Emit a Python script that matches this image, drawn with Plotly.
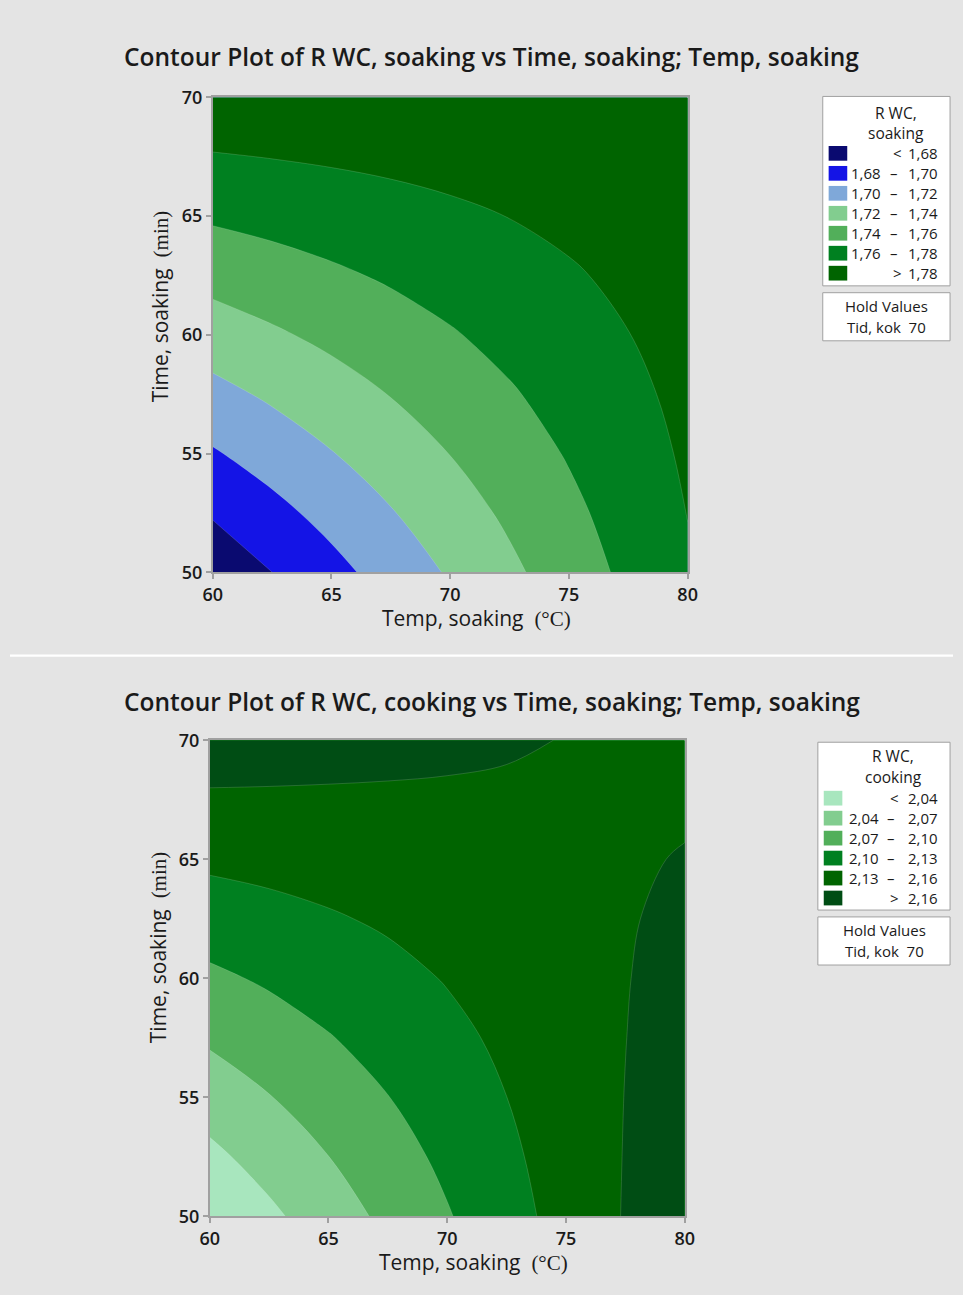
import plotly.graph_objects as go

# page pixels of the picture; the browser puts the figure 8 px in from the edges
PAGE_W, PAGE_H = 979, 1311
OFF = 8
W, H = PAGE_W - 2 * OFF, PAGE_H - 2 * OFF

# ---------------- data ----------------
temp = [60, 62.5, 65, 67.5, 70, 72.5, 75, 77.5, 80]          # Temp, soaking (°C)
time = [50, 52.5, 55, 57.5, 60, 62.5, 65, 67.5, 70]          # Time, soaking (min)

# R WC, soaking  (rows = time, cols = temp)
rwc_soaking = [
    [1.6658, 1.6799, 1.6939, 1.7080, 1.7220, 1.7361, 1.7501, 1.7642, 1.7782],
    [1.6819, 1.6942, 1.7065, 1.7188, 1.7311, 1.7434, 1.7557, 1.7680, 1.7803],
    [1.6981, 1.7086, 1.7192, 1.7297, 1.7403, 1.7508, 1.7614, 1.7719, 1.7825],
    [1.7142, 1.7230, 1.7318, 1.7406, 1.7494, 1.7582, 1.7670, 1.7758, 1.7846],
    [1.7303, 1.7374, 1.7444, 1.7515, 1.7585, 1.7656, 1.7726, 1.7797, 1.7867],
    [1.7464, 1.7517, 1.7570, 1.7623, 1.7676, 1.7729, 1.7782, 1.7835, 1.7888],
    [1.7626, 1.7661, 1.7696, 1.7732, 1.7768, 1.7803, 1.7839, 1.7874, 1.7910],
    [1.7787, 1.7805, 1.7823, 1.7841, 1.7859, 1.7877, 1.7895, 1.7913, 1.7931],
    [1.7948, 1.7949, 1.7949, 1.7950, 1.7950, 1.7950, 1.7951, 1.7951, 1.7952],
]

# R WC, cooking  (rows = time, cols = temp)
rwc_cooking = [
    [2.0129, 2.0342, 2.0554, 2.0767, 2.0979, 2.1192, 2.1404, 2.1617, 2.1829],
    [2.0333, 2.0516, 2.0698, 2.0881, 2.1063, 2.1245, 2.1428, 2.1610, 2.1793],
    [2.0538, 2.0690, 2.0842, 2.0995, 2.1147, 2.1299, 2.1451, 2.1604, 2.1756],
    [2.0742, 2.0864, 2.0986, 2.1108, 2.1231, 2.1353, 2.1475, 2.1597, 2.1720],
    [2.0946, 2.1038, 2.1130, 2.1222, 2.1315, 2.1407, 2.1499, 2.1591, 2.1683],
    [2.1150, 2.1212, 2.1274, 2.1336, 2.1398, 2.1460, 2.1522, 2.1584, 2.1647],
    [2.1355, 2.1386, 2.1418, 2.1450, 2.1482, 2.1514, 2.1546, 2.1578, 2.1610],
    [2.1559, 2.1561, 2.1562, 2.1564, 2.1566, 2.1568, 2.1570, 2.1572, 2.1574],
    [2.1763, 2.1735, 2.1707, 2.1678, 2.1650, 2.1622, 2.1594, 2.1565, 2.1537],
]

soak_levels = [1.68, 1.70, 1.72, 1.74, 1.76, 1.78]
soak_colors = ["#0A0A70", "#1414E6", "#7FA8D9", "#82CD8F", "#52AF5A", "#008020", "#006400"]
cook_levels = [2.04, 2.07, 2.10, 2.13, 2.16]
cook_colors = ["#A8E6BE", "#82CD8F", "#52AF5A", "#008020", "#006400", "#004D14"]

x_ticks = [60, 65, 70, 75, 80]
y_ticks = [50, 55, 60, 65, 70]

titles = ["Contour Plot of R WC, soaking vs Time, soaking; Temp, soaking",
          "Contour Plot of R WC, cooking vs Time, soaking; Temp, soaking"]
legend_titles = [["R WC,", "soaking"], ["R WC,", "cooking"]]
hold_text = ["Hold Values", "Tid, kok  70"]
x_title = "Temp, soaking"
y_title = "Time, soaking"
x_unit = "(°C)"
y_unit = "(min)"

# ---------------- helpers ----------------
FONT = "Open Sans"
SERIF = "Liberation Serif"
TXT = "#1A1A1A"
PANEL = "#E4E4E4"
GRAYLINE = "#A0A0A0"


def px(x):
    """page pixel -> paper fraction"""
    return (x - OFF) / W


def py(y):
    return 1 - (y - OFF) / H


def fmt(v):
    return f"{v:.2f}".replace(".", ",")


def scale_from(colors):
    n = len(colors)
    return [[i / (n - 1), c] for i, c in enumerate(colors)]


fig = go.Figure()

fig.add_trace(go.Contour(
    x=temp, y=time, z=rwc_soaking, xaxis="x", yaxis="y",
    contours=dict(start=soak_levels[0], end=soak_levels[-1],
                  size=round(soak_levels[1] - soak_levels[0], 4), coloring="fill"),
    colorscale=scale_from(soak_colors), showscale=False,
    line=dict(width=0.6, color="rgba(255,255,255,0.25)", smoothing=1),
    hoverinfo="skip"))

fig.add_trace(go.Contour(
    x=temp, y=time, z=rwc_cooking, xaxis="x2", yaxis="y2",
    contours=dict(start=cook_levels[0], end=cook_levels[-1],
                  size=round(cook_levels[1] - cook_levels[0], 4), coloring="fill"),
    colorscale=scale_from(cook_colors), showscale=False,
    line=dict(width=0.6, color="rgba(255,255,255,0.25)", smoothing=1),
    hoverinfo="skip"))

axis_common = dict(showgrid=False, zeroline=False, showline=True, mirror=True,
                   linecolor=GRAYLINE, linewidth=1.5, ticks="outside", ticklen=5,
                   tickcolor=GRAYLINE, tickwidth=1.5,
                   tickfont=dict(family=FONT, size=18, color=TXT, weight=600))

# plot areas in page pixels
areas = [dict(x0=215, x1=700, y0=94, y1=578), dict(x0=212, x1=697, y0=749, y1=1234)]

layout = dict(
    width=W, height=H, margin=dict(l=0, r=0, t=0, b=0),
    paper_bgcolor=PANEL, plot_bgcolor=PANEL, showlegend=False,
)
for i, a in enumerate(areas):
    sfx = "" if i == 0 else "2"
    layout["xaxis" + sfx] = dict(axis_common, domain=[px(a["x0"]), px(a["x1"])],
                                 range=[x_ticks[0], x_ticks[-1]], tickvals=x_ticks,
                                 anchor="y" + sfx)
    layout["yaxis" + sfx] = dict(axis_common, domain=[py(a["y1"]), py(a["y0"])],
                                 range=[y_ticks[0], y_ticks[-1]], tickvals=y_ticks,
                                 anchor="x" + sfx)
fig.update_layout(**layout)

shapes = []
annotations = []

# white separator between the two panels
shapes.append(dict(type="rect", xref="paper", yref="paper", layer="below",
                   x0=0, x1=1, y0=py(664), y1=py(661.5),
                   fillcolor="white", line=dict(width=0)))


def ann(text, x, y, size, xanchor="center", weight=400, angle=0, family=FONT):
    annotations.append(dict(text=text, x=px(x), y=py(y), xref="paper", yref="paper",
                            showarrow=False, xanchor=xanchor, yanchor="middle",
                            textangle=angle, borderpad=0,
                            font=dict(family=family, size=size, color=TXT, weight=weight)))


# titles
ann(titles[0], 500, 52, 24.5, weight=600)
ann(titles[1], 500, 709, 24.5, weight=600)

# axis titles
unit_span = "<span style=\"font-family:'%s'; font-weight:400\">%s</span>"
ann(x_title + "  " + unit_span % (SERIF, x_unit), 484, 624, 21, weight=500)
ann(x_title + "  " + unit_span % (SERIF, x_unit), 481, 1281, 21, weight=500)
ann(y_title + "  " + unit_span % (SERIF, y_unit), 162, 307, 21, weight=500, angle=-90)
ann(y_title + "  " + unit_span % (SERIF, y_unit), 160, 960, 21, weight=500, angle=-90)

# legends
legends = [
    dict(box=(838, 968, 93, 286), hold=(838, 968, 293, 342), title_y=(110, 130),
         sw_x=(844, 863), row0=151, step=20.35, lo_x=899, sym_x=911, hi_x=957,
         levels=soak_levels, colors=soak_colors, hold_y=(307, 328), cx=913, hcx=903),
    dict(box=(833, 968, 751, 922), hold=(833, 968, 929, 978), title_y=(765, 786),
         sw_x=(839, 858), row0=808, step=20.35, lo_x=896, sym_x=908, hi_x=957,
         levels=cook_levels, colors=cook_colors, hold_y=(942.5, 963.5), cx=910, hcx=901),
]
for k, L in enumerate(legends):
    for (x0, x1, y0, y1) in [L["box"], L["hold"]]:
        shapes.append(dict(type="rect", xref="paper", yref="paper",
                           x0=px(x0), x1=px(x1), y0=py(y1), y1=py(y0),
                           fillcolor="white", line=dict(color=GRAYLINE, width=1)))
    ann(legend_titles[k][0], L["cx"], L["title_y"][0], 15.5)
    ann(legend_titles[k][1], L["cx"], L["title_y"][1], 15.5)
    n = len(L["colors"])
    for j, c in enumerate(L["colors"]):
        yc = L["row0"] + j * L["step"]
        shapes.append(dict(type="rect", xref="paper", yref="paper",
                           x0=px(L["sw_x"][0]), x1=px(L["sw_x"][1]),
                           y0=py(yc + 7.5), y1=py(yc - 7.5),
                           fillcolor=c, line=dict(width=0)))
        lv = L["levels"]
        if j == 0:
            ann("<", L["sym_x"] + 3, yc, 15)
            ann(fmt(lv[0]), L["hi_x"], yc, 15, xanchor="right")
        elif j == n - 1:
            ann(">", L["sym_x"] + 3, yc, 15)
            ann(fmt(lv[-1]), L["hi_x"], yc, 15, xanchor="right")
        else:
            ann(fmt(lv[j - 1]), L["lo_x"], yc, 15, xanchor="right")
            ann("–", L["sym_x"], yc, 15)
            ann(fmt(lv[j]), L["hi_x"], yc, 15, xanchor="right")
    ann(hold_text[0], L["hcx"], L["hold_y"][0], 15)
    ann(hold_text[1], L["hcx"], L["hold_y"][1], 15)

fig.update_layout(shapes=shapes, annotations=annotations)
fig.write_html("out.html")
